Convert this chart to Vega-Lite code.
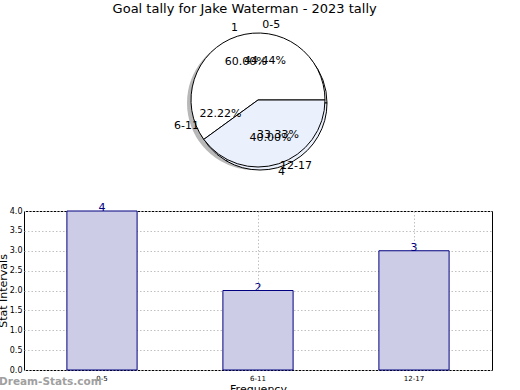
{
  "$schema": "https://vega.github.io/schema/vega-lite/v6.json",
  "padding": {"left": -4, "top": 3, "right": 0, "bottom": 0},
  "background": "white",
  "title": {"text": "Goal tally for Jake Waterman - 2023 tally", "fontSize": 13, "fontWeight": "normal", "font": "DejaVu Sans", "color": "black", "anchor": "middle", "offset": 3},
  "spacing": 32,
  "bounds": "flush",
  "config": {
    "font": "DejaVu Sans",
    "view": {"stroke": "black", "strokeWidth": 1}
  },
  "datasets": {
    "goals": [
      {"goal": "1", "share": 60, "pct": "60.00%", "i": 1},
      {"goal": "4", "share": 40, "pct": "40.00%", "i": 2}
    ],
    "intervals": [
      {"interval": "0-5", "count": 4, "pct": "44.44%", "i": 1},
      {"interval": "6-11", "count": 2, "pct": "22.22%", "i": 2},
      {"interval": "12-17", "count": 3, "pct": "33.33%", "i": 3}
    ]
  },
  "vconcat": [
    {
      "width": 468,
      "height": 158,
      "view": {"stroke": null},
      "layer": [
        {
          "data": {"name": "intervals"},
          "mark": {"type": "arc", "outerRadius": 67, "fill": "#888888", "opacity": 0.6, "xOffset": -4, "yOffset": 3},
          "encoding": {
            "theta": {"field": "count", "type": "quantitative", "stack": true, "scale": {"range": [1.5708, -4.7124]}},
            "order": {"field": "i", "type": "quantitative"}
          }
        },
        {
          "data": {"name": "intervals"},
          "mark": {"type": "arc", "outerRadius": 67, "stroke": "black", "strokeWidth": 1, "xOffset": 2, "yOffset": 3},
          "encoding": {
            "theta": {"field": "count", "type": "quantitative", "stack": true, "scale": {"range": [1.5708, -4.7124]}},
            "order": {"field": "i", "type": "quantitative"},
            "color": {"field": "interval", "type": "nominal", "scale": {"domain": ["0-5", "6-11", "12-17"], "range": ["#ffffff", "#eef2fb", "#eaf0fc"]}, "legend": null}
          }
        },
        {
          "data": {"name": "goals"},
          "mark": {"type": "arc", "outerRadius": 67, "stroke": "black", "strokeWidth": 1},
          "encoding": {
            "theta": {"field": "share", "type": "quantitative", "stack": true, "scale": {"range": [1.5708, -4.7124]}},
            "order": {"field": "i", "type": "quantitative"},
            "color": {"field": "goal", "type": "nominal", "scale": {"domain": ["1", "4"], "range": ["#ffffff", "#eaf0fc"]}, "legend": null}
          }
        },
        {
          "data": {"name": "goals"},
          "mark": {"type": "text", "radius": 76, "fontSize": 11, "color": "black"},
          "encoding": {
            "theta": {"field": "share", "type": "quantitative", "stack": true, "scale": {"range": [1.5708, -4.7124]}},
            "order": {"field": "i", "type": "quantitative"},
            "text": {"field": "goal"}
          }
        },
        {
          "data": {"name": "goals"},
          "mark": {"type": "text", "radius": 40, "fontSize": 11, "color": "black"},
          "encoding": {
            "theta": {"field": "share", "type": "quantitative", "stack": true, "scale": {"range": [1.5708, -4.7124]}},
            "order": {"field": "i", "type": "quantitative"},
            "text": {"field": "pct"}
          }
        },
        {
          "data": {"name": "intervals"},
          "mark": {"type": "text", "radius": 76, "fontSize": 11, "color": "black"},
          "encoding": {
            "theta": {"field": "count", "type": "quantitative", "stack": true, "scale": {"range": [1.5708, -4.7124]}},
            "order": {"field": "i", "type": "quantitative"},
            "text": {"field": "interval"}
          }
        },
        {
          "data": {"name": "intervals"},
          "mark": {"type": "text", "radius": 40, "fontSize": 11, "color": "black"},
          "encoding": {
            "theta": {"field": "count", "type": "quantitative", "stack": true, "scale": {"range": [1.5708, -4.7124]}},
            "order": {"field": "i", "type": "quantitative"},
            "text": {"field": "pct"}
          }
        }
      ],
      "resolve": {"scale": {"theta": "independent", "color": "independent"}}
    },
    {
      "width": 468,
      "height": 159,
      "data": {"name": "intervals"},
      "title": {"text": "Dream-Stats.com", "orient": "bottom", "anchor": "start", "frame": "group", "dx": -25, "offset": -17, "fontSize": 10.5, "fontWeight": "bold", "color": "#a0a0a0"},
      "encoding": {
        "x": {
          "field": "interval", "type": "nominal", "sort": null,
          "scale": {"paddingInner": 0, "paddingOuter": 0},
          "axis": {"title": "Frequency", "titleFontSize": 11, "titleFontWeight": "normal", "titleColor": "black", "titlePadding": 2, "labelAngle": 0, "labelFontSize": 7, "labelColor": "black", "labelPadding": 4, "ticks": false, "domain": false, "grid": true, "bandPosition": 0.5, "gridColor": "#c0c0c0", "gridDash": [1.5, 2]}
        },
        "y": {
          "field": "count", "type": "quantitative",
          "scale": {"domain": [0, 4], "nice": false},
          "axis": {"title": "Stat Intervals", "titleFontSize": 11, "titleFontWeight": "normal", "titleColor": "black", "titlePadding": 1, "values": [0, 0.5, 1, 1.5, 2, 2.5, 3, 3.5, 4], "format": ".1f", "labelFontSize": 8, "labelColor": "black", "labelPadding": 2, "ticks": false, "domain": false, "grid": true, "gridColor": "#c0c0c0", "gridDash": [1.5, 2]}
        }
      },
      "layer": [
        {
          "mark": {"type": "bar", "fill": "#ccccE6", "stroke": "#000080", "strokeWidth": 1, "width": {"band": 0.45}}
        },
        {
          "mark": {"type": "text", "color": "#000080", "baseline": "bottom", "fontSize": 11, "dy": 2},
          "encoding": {"text": {"field": "count"}}
        }
      ]
    }
  ]
}
